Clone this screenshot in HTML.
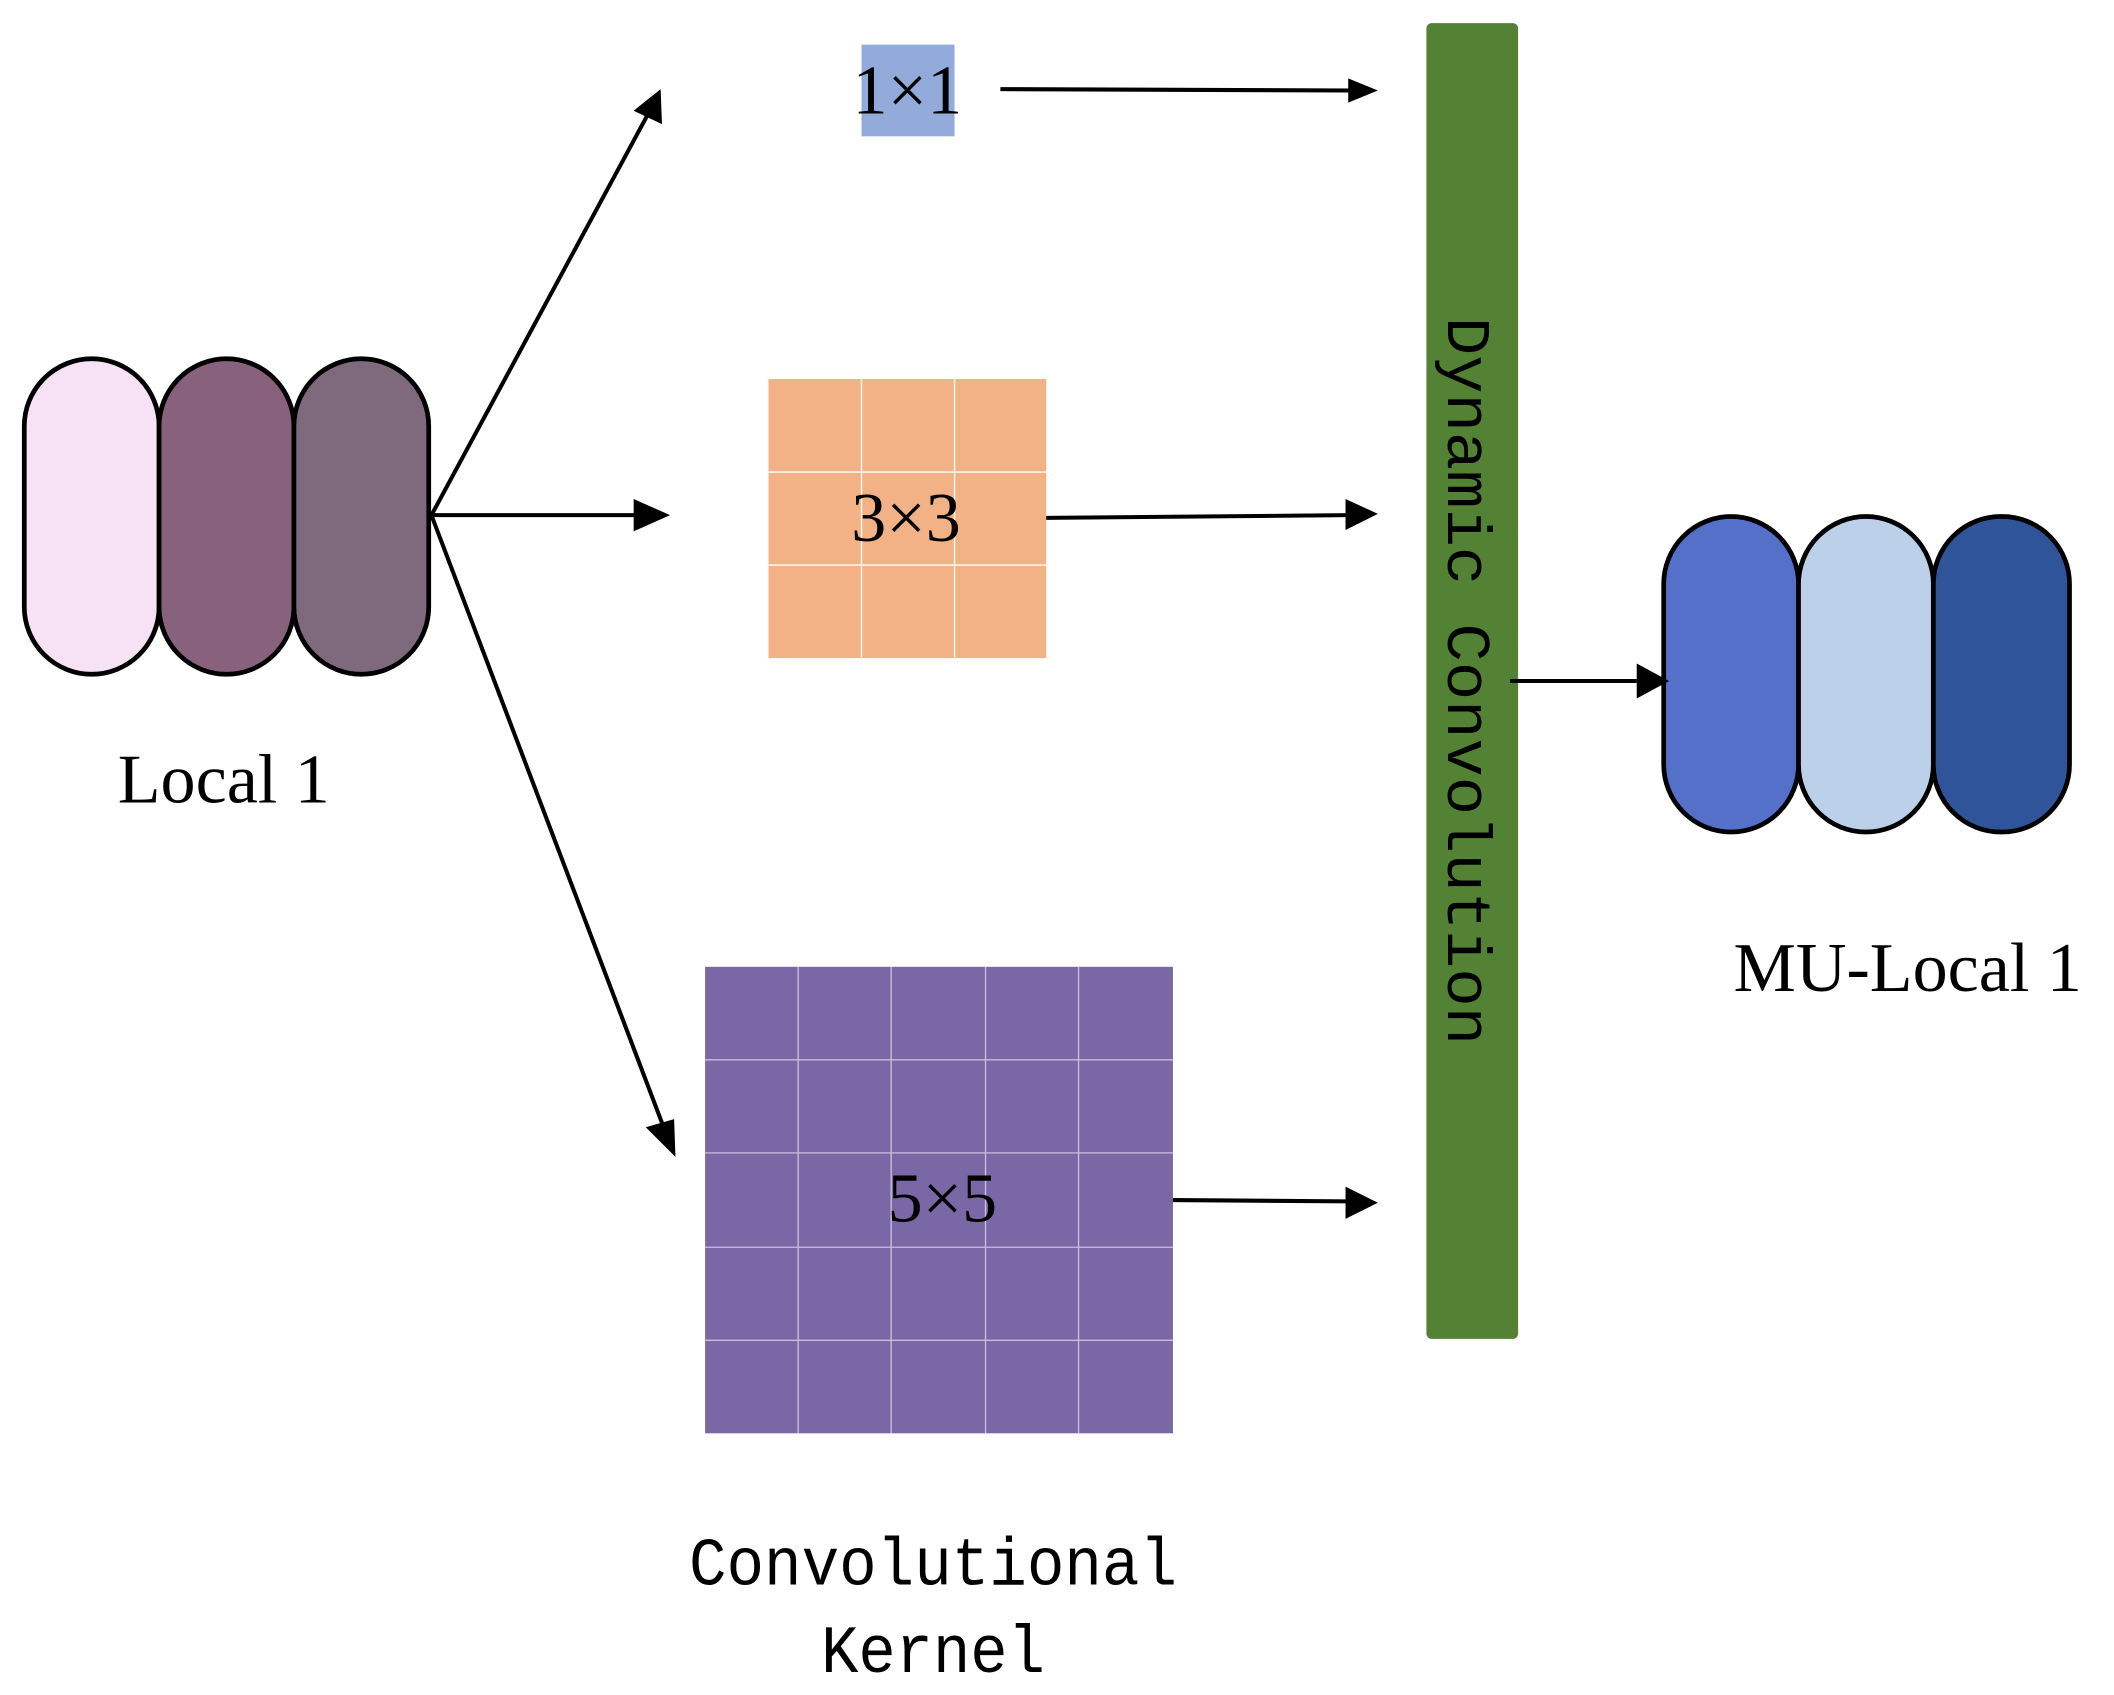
<!DOCTYPE html>
<html><head><meta charset="utf-8"><style>html,body{margin:0;padding:0;background:#fff;}svg{display:block}</style></head>
<body>
<svg width="2114" height="1695" viewBox="0 0 1568 1257" xmlns="http://www.w3.org/2000/svg">
<defs>
<marker id="ah" markerWidth="10" markerHeight="10" refX="9" refY="5" orient="auto" markerUnits="userSpaceOnUse" viewBox="0 0 10 10">
</marker>
</defs>
<g stroke="#000" stroke-width="3.5">
<rect x="18" y="266" width="100" height="234" rx="50" fill="#f7e1f4"/>
<rect x="118" y="266" width="100" height="234" rx="50" fill="#88627d"/>
<rect x="218" y="266" width="100" height="234" rx="50" fill="#7f6a7d"/>
<rect x="1234" y="383" width="100" height="234" rx="50" fill="#5470c9"/>
<rect x="1334" y="383" width="100" height="234" rx="50" fill="#bdd0ea"/>
<rect x="1434" y="383" width="101" height="234" rx="50" fill="#30549a"/>
</g>
<text x="166" y="595" font-family="Liberation Serif, serif" font-size="52" text-anchor="middle">Local 1</text>
<text x="1415" y="735" font-family="Liberation Serif, serif" font-size="52" text-anchor="middle">MU-Local 1</text>

<rect x="639" y="33" width="69" height="68" fill="#92abdb"/>
<text x="673" y="84" font-family="Liberation Serif, serif" font-size="52" text-anchor="middle">1×1</text>

<rect x="570" y="281" width="206" height="207" fill="#f3b285"/>
<g stroke="#fff" stroke-width="1">
<line x1="639" y1="281" x2="639" y2="488"/><line x1="708" y1="281" x2="708" y2="488"/>
<line x1="570" y1="350" x2="776" y2="350"/><line x1="570" y1="419" x2="776" y2="419"/>
</g>
<text x="672" y="401" font-family="Liberation Serif, serif" font-size="52" text-anchor="middle">3×3</text>

<rect x="523" y="717" width="347" height="346" fill="#7a67a5"/>
<g stroke="#c8c0dc" stroke-width="1">
<line x1="592" y1="717" x2="592" y2="1063"/><line x1="661" y1="717" x2="661" y2="1063"/><line x1="731" y1="717" x2="731" y2="1063"/><line x1="800" y1="717" x2="800" y2="1063"/>
<line x1="523" y1="786" x2="870" y2="786"/><line x1="523" y1="855" x2="870" y2="855"/><line x1="523" y1="925" x2="870" y2="925"/><line x1="523" y1="994" x2="870" y2="994"/>
</g>
<text x="699" y="906" font-family="Liberation Serif, serif" font-size="52" text-anchor="middle">5×5</text>

<rect x="1058" y="17" width="68" height="976" rx="4" fill="#548235"/>
<text transform="translate(1074,235) rotate(90)" x="0" y="0" font-family="Liberation Mono, monospace" font-size="46" textLength="540" lengthAdjust="spacingAndGlyphs">Dynamic Convolution</text>

<text x="692" y="1175" font-family="Liberation Mono, monospace" font-size="50" text-anchor="middle" textLength="362" lengthAdjust="spacingAndGlyphs">Convolutional</text>
<text x="692" y="1240" font-family="Liberation Mono, monospace" font-size="50" text-anchor="middle" textLength="166" lengthAdjust="spacingAndGlyphs">Kernel</text>

<g stroke="#000" stroke-width="3" fill="none">
<line x1="320" y1="382" x2="482" y2="82"/>
<line x1="320" y1="382" x2="474" y2="382"/>
<line x1="320" y1="382" x2="493" y2="838"/>
<line x1="742" y1="66" x2="1002" y2="67"/>
<line x1="776" y1="384" x2="1000" y2="382"/>
<line x1="870" y1="890" x2="1000" y2="891"/>
<line x1="1120" y1="505" x2="1214" y2="505"/>
</g>
<g fill="#000">
<polygon points="490,66 491,92 470,82"/>
<polygon points="497,382 470,370 470,394"/>
<polygon points="501,858 479,836 500,830"/>
<polygon points="1022,67 1000,58 1000,76"/>
<polygon points="1022,381 998,370 998,393"/>
<polygon points="1022,892 998,880 998,904"/>
<polygon points="1238,505 1214,492 1214,518"/>
</g>
</svg>
</body></html>
